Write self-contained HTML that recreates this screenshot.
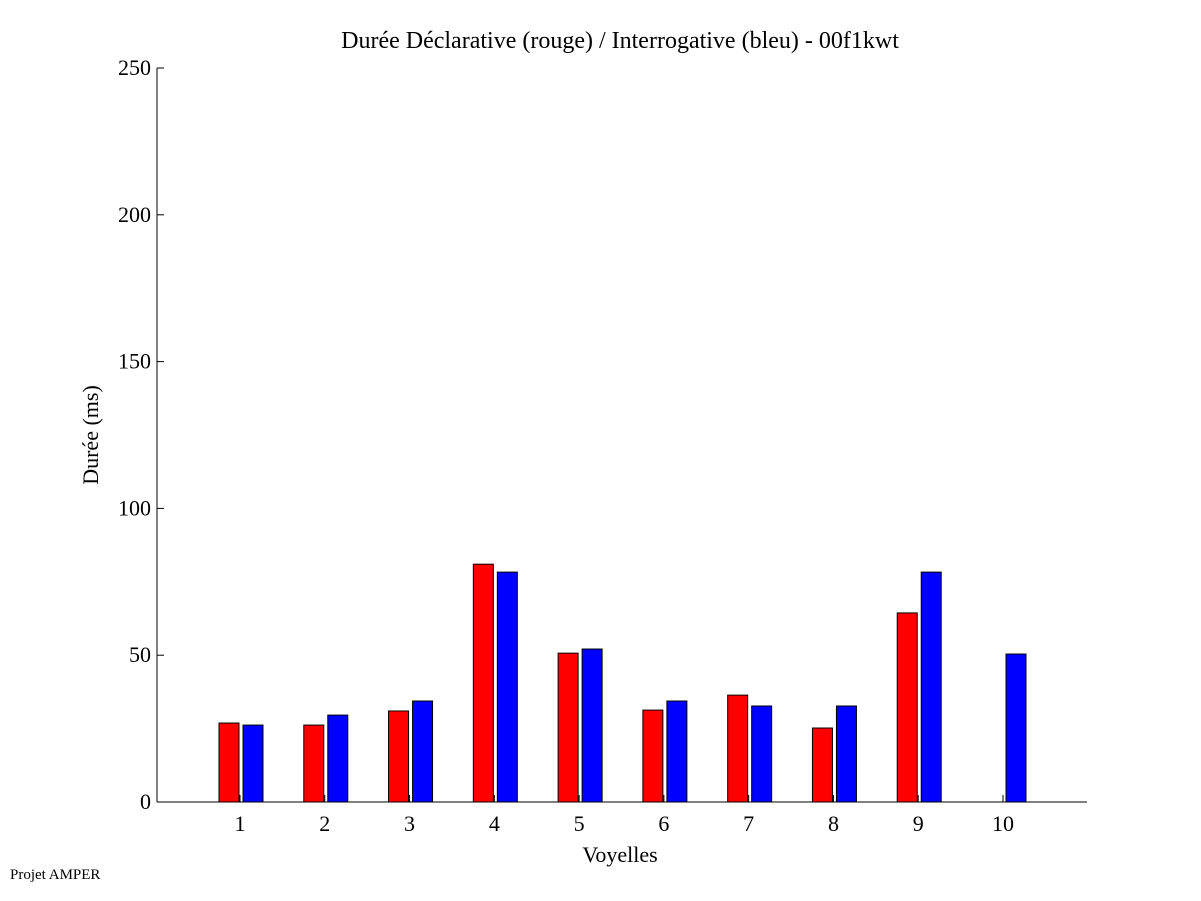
<!DOCTYPE html>
<html><head><meta charset="utf-8"><style>
html,body{margin:0;padding:0;background:#fff;}
svg{display:block;font-family:"Liberation Serif",serif;}
</style></head><body>
<svg id="chart" width="1201" height="901">
<text x="620" y="48" font-size="24" text-anchor="middle">Durée Déclarative (rouge) / Interrogative (bleu) - 00f1kwt</text>
<text x="620" y="862" font-size="22" text-anchor="middle">Voyelles</text>
<text transform="translate(98,435) rotate(-90)" font-size="22" text-anchor="middle">Durée (ms)</text>
<text x="10" y="879" font-size="15">Projet AMPER</text>
<g id="plot"></g>
</svg>
<script>
const categories=[1,2,3,4,5,6,7,8,9,10];
const declarative=[26.9,26.2,31,81,50.7,31.3,36.4,25.2,64.4,0];
const interrogative=[26.2,29.6,34.4,78.3,52.1,34.4,32.7,32.7,78.3,50.4];
const yTicks=[0,50,100,150,200,250];
const NS="http://www.w3.org/2000/svg";
const g=document.getElementById('plot');
const x0=157,x1=1087,y0=802,yTop=68;
const ys=v=>y0-(v/250)*(y0-yTop);
const xs=c=>240+(c-1)*(1003-240)/9;
function mk(t,a){const e=document.createElementNS(NS,t);for(const k in a)e.setAttribute(k,a[k]);g.appendChild(e);return e;}
categories.forEach((c,i)=>{
  const cx=xs(c);
  if(declarative[i]>0){
    const r=mk('rect',{x:cx-21,y:ys(declarative[i]),width:20,height:y0-ys(declarative[i]),fill:'#ff0000',stroke:'#000','stroke-width':1});
    
    
  }
  const b=mk('rect',{x:cx+3,y:ys(interrogative[i]),width:20,height:y0-ys(interrogative[i]),fill:'#0000ff',stroke:'#000','stroke-width':1});
  
  
  const tk=mk('line',{x1:cx,x2:cx,y1:y0,y2:y0-7,stroke:'#000'});
  
  
  const tl=mk('text',{x:cx,y:831,'font-size':22,'text-anchor':'middle'});
  tl.textContent=c;
  
  
});
yTicks.forEach(v=>{
  const y=ys(v);
  const t=mk('line',{x1:x0,x2:x0+7,y1:y,y2:y,stroke:'#000'});
  
  
  const l=mk('text',{x:x0-6,y:y+7,'font-size':22,'text-anchor':'end'});
  l.textContent=v;
  
  
});
const ya=mk('line',{x1:x0,x2:x0,y1:yTop,y2:y0,stroke:'#000'});


const xa=mk('line',{x1:x0,x2:x1,y1:y0,y2:y0,stroke:'#000'});


</script>
</body></html>
